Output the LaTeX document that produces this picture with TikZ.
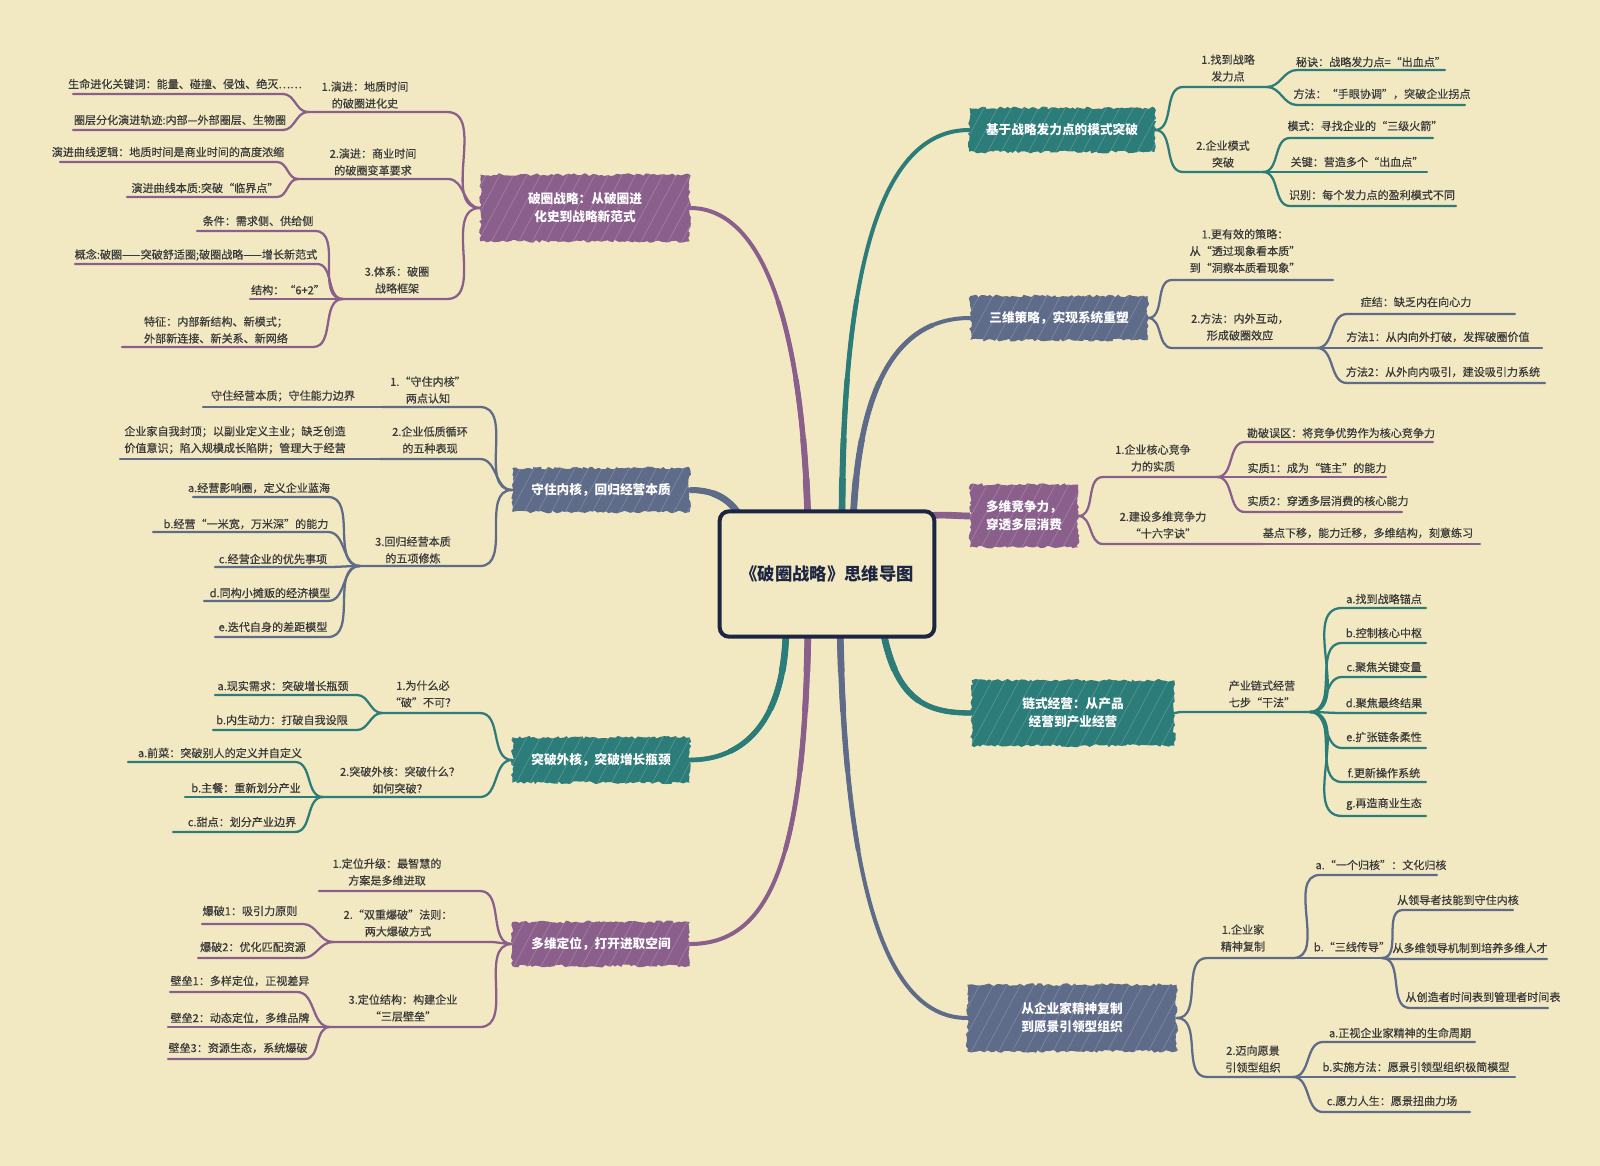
\documentclass[tikz,border=0pt]{standalone}
\usepackage{fontspec}
\setmainfont{Noto Sans CJK SC}
\newfontfamily\leaffont{Noto Sans CJK SC}[FakeBold=0.5]
\usetikzlibrary{decorations.pathmorphing,patterns.meta}
\definecolor{bgc}{HTML}{F2E9C2}
\definecolor{pur}{HTML}{8A5F8C}
\definecolor{tea}{HTML}{2C7C79}
\definecolor{sla}{HTML}{5E6B89}
\definecolor{txtc}{HTML}{3A3A3A}
\definecolor{navy}{HTML}{1C2541}
\pgfdeclarelayer{back}
\pgfdeclarelayer{lines}
\pgfsetlayers{back,lines,main}
\tikzset{
  lt/.style={font=\leaffont\fontsize{8.3}{12.6}\selectfont, text=txtc, inner sep=0pt, align=center},
  ul/.style={line width=1.7pt, line cap=round, draw=#1},
  br/.style={line width=3pt, line cap=round, draw=#1,
    preaction={draw=#1, line width=3.5pt, dash pattern=on 170pt off 3000pt},
    preaction={draw=#1, line width=4pt, dash pattern=on 110pt off 3000pt},
    preaction={draw=#1, line width=4.5pt, dash pattern=on 65pt off 3000pt},
    preaction={draw=#1, line width=5pt, dash pattern=on 35pt off 3000pt}},
  mnode/.style={fill=#1, text=white, font=\fontsize{9.5}{13.5}\selectfont\bfseries, align=center, inner sep=0pt,
    decorate, decoration={random steps,segment length=2.2pt,amplitude=1.1pt},
    postaction={pattern={Lines[angle=62,distance=9pt,line width=0.5pt]}, pattern color=white, opacity=0.2}},
}
\newcommand\leafL[6]{\coordinate (#1l) at (#3,#5);\coordinate (#1r) at (#4,#5);
  \draw[ul=#2] (#1l) -- (#1r) to[out=0,in=180] (#6);}
\newcommand\leafR[6]{\coordinate (#1l) at (#3,#5);\coordinate (#1r) at (#4,#5);
  \draw[ul=#2] (#6) to[out=0,in=180] (#1l) -- (#1r);}
\begin{document}
\begin{tikzpicture}[x=0.75pt,y=-0.75pt]
\begin{pgfonlayer}{back}
\fill[bgc] (0,0) rectangle (1600,1166);
\end{pgfonlayer}

% center
\node[draw=navy, line width=3pt, rounded corners=7pt, fill=bgc, minimum width=161pt, minimum height=94pt,
  font=\fontsize{13}{15}\selectfont\bfseries, text=navy] (C) at (827,574) {《破圈战略》思维导图};

% main nodes
\node[mnode=pur, minimum width=157pt, minimum height=50pt] (N1) at (585,208) {破圈战略：从破圈进\\化史到战略新范式};
\node[mnode=sla, minimum width=133pt, minimum height=33pt] (N2) at (601,490) {守住内核，回归经营本质};
\node[mnode=tea, minimum width=133pt, minimum height=34pt] (N3) at (601,760) {突破外核，突破增长瓶颈};
\node[mnode=pur, minimum width=133pt, minimum height=33pt] (N4) at (601,944) {多维定位，打开进取空间};
\node[mnode=tea, minimum width=139pt, minimum height=33pt] (N5) at (1062,130) {基于战略发力点的模式突破};
\node[mnode=sla, minimum width=133pt, minimum height=33pt] (N6) at (1059,318) {三维策略，实现系统重塑};
\node[mnode=pur, minimum width=81pt, minimum height=47pt] (N7) at (1024,516) {多维竞争力，\\穿透多层消费};
\node[mnode=tea, minimum width=152pt, minimum height=49pt] (N8) at (1073,713) {链式经营：从产品\\经营到产业经营};
\node[mnode=sla, minimum width=157pt, minimum height=50pt] (N9) at (1072,1018) {从企业家精神复制\\到愿景引领型组织};

% group 1 texts
\node[lt] (t1s1) at (365,95) {1.演进：地质时间\\的破圈进化史};
\node[lt] (t1a) at (185,84) {生命进化关键词：能量、碰撞、侵蚀、绝灭……};
\node[lt] (t1b) at (180,120) {圈层分化演进轨迹:内部—外部圈层、生物圈};
\node[lt] (t1s2) at (373,162) {2.演进：商业时间\\的破圈变革要求};
\node[lt] (t1c) at (168,152) {演进曲线逻辑：地质时间是商业时间的高度浓缩};
\node[lt] (t1d) at (205,188) {演进曲线本质:突破“临界点”};
\node[lt] (t1s3) at (397,280) {3.体系：破圈\\战略框架};
\node[lt] (t1e) at (258,221) {条件：需求侧、供给侧};
\node[lt] (t1f) at (196,255) {概念:破圈——突破舒适圈;破圈战略——增长新范式};
\node[lt] (t1g) at (288,290) {结构：“6+2”};
\node[lt] (t1h) at (216,330) {特征：内部新结构、新模式；\\外部新连接、新关系、新网络};

% group 2 texts
\node[lt] (t2s1) at (428,390) {1.“守住内核”\\两点认知};
\node[lt] (t2a) at (283,396) {守住经营本质；守住能力边界};
\node[lt] (t2s2) at (430,440) {2.企业低质循环\\的五种表现};
\node[lt] (t2b) at (235,440) {企业家自我封顶；以副业定义主业；缺乏创造\\价值意识；陷入规模成长陷阱；管理大于经营};
\node[lt] (t2s3) at (413,550) {3.回归经营本质\\的五项修炼};
\node[lt] (t2c) at (259,488) {a.经营影响圈，定义企业蓝海};
\node[lt] (t2d) at (246,524) {b.经营“一米宽，万米深”的能力};
\node[lt] (t2e) at (273,559) {c.经营企业的优先事项};
\node[lt] (t2f) at (270,593) {d.同构小摊贩的经济模型};
\node[lt] (t2g) at (273,627) {e.迭代自身的差距模型};

% group 3 texts
\node[lt] (t3s1) at (423,694) {1.为什么必\\“破”不可？};
\node[lt] (t3a) at (283,686) {a.现实需求：突破增长瓶颈};
\node[lt] (t3b) at (282,720) {b.内生动力：打破自我设限};
\node[lt] (t3s2) at (400,780) {2.突破外核：突破什么？\\如何突破？};
\node[lt] (t3c) at (220,753) {a.前菜：突破别人的定义并自定义};
\node[lt] (t3d) at (246,788) {b.主餐：重新划分产业};
\node[lt] (t3e) at (242,822) {c.甜点：划分产业边界};

% group 4 texts
\node[lt] (t4s1) at (387,872) {1.定位升级：最智慧的\\方案是多维进取};
\node[lt] (t4s2) at (398,923) {2.“双重爆破”法则：\\两大爆破方式};
\node[lt] (t4a) at (250,911) {爆破1：吸引力原则};
\node[lt] (t4b) at (253,947) {爆破2：优化匹配资源};
\node[lt] (t4s3) at (403,1008) {3.定位结构：构建企业\\“三层壁垒”};
\node[lt] (t4c) at (240,981) {壁垒1：多样定位，正视差异};
\node[lt] (t4d) at (240,1018) {壁垒2：动态定位，多维品牌};
\node[lt] (t4e) at (238,1048) {壁垒3：资源生态，系统爆破};

% group 5 texts
\node[lt] (t5s1) at (1228,68) {1.找到战略\\发力点};
\node[lt] (t5a) at (1371,62) {秘诀：战略发力点=“出血点”};
\node[lt] (t5b) at (1382,94) {方法：“手眼协调”，突破企业拐点};
\node[lt] (t5s2) at (1223,154) {2.企业模式\\突破};
\node[lt] (t5c) at (1365,126) {模式：寻找企业的“三级火箭”};
\node[lt] (t5d) at (1357,162) {关键：营造多个“出血点”};
\node[lt] (t5e) at (1372,195) {识别：每个发力点的盈利模式不同};

% group 6 texts
\node[lt] (t6s1) at (1245,251) {1.更有效的策略：\\从“透过现象看本质”\\到“洞察本质看现象”};
\node[lt] (t6s2) at (1240,327) {2.方法：内外互动，\\形成破圈效应};
\node[lt] (t6a) at (1416,302) {症结：缺乏内在向心力};
\node[lt] (t6b) at (1438,337) {方法1：从内向外打破，发挥破圈价值};
\node[lt] (t6c) at (1443,372) {方法2：从外向内吸引，建设吸引力系统};

% group 7 texts
\node[lt] (t7s1) at (1153,458) {1.企业核心竞争\\力的实质};
\node[lt] (t7a) at (1341,433) {勘破误区：将竞争优势作为核心竞争力};
\node[lt] (t7b) at (1317,468) {实质1：成为“链主”的能力};
\node[lt] (t7c) at (1328,501) {实质2：穿透多层消费的核心能力};
\node[lt] (t7s2) at (1163,525) {2.建设多维竞争力\\“十六字诀”};
\node[lt] (t7d) at (1368,533) {基点下移，能力迁移，多维结构，刻意练习};

% group 8 texts
\node[lt] (t8s) at (1262,694) {产业链式经营\\七步“干法”};
\node[lt] (t8a) at (1384,599) {a.找到战略锚点};
\node[lt] (t8b) at (1384,633) {b.控制核心中枢};
\node[lt] (t8c) at (1384,667) {c.聚焦关键变量};
\node[lt] (t8d) at (1384,703) {d.聚焦最终结果};
\node[lt] (t8e) at (1384,737) {e.扩张链条柔性};
\node[lt] (t8f) at (1384,773) {f.更新操作系统};
\node[lt] (t8g) at (1384,804) {g.再造商业生态};

% group 9 texts
\node[lt] (t9s1) at (1243,938) {1.企业家\\精神复制};
\node[lt] (t9a) at (1381,865) {a.“一个归核”：文化归核};
\node[lt] (t9b) at (1352,947) {b.“三线传导”};
\node[lt] (t9c) at (1458,900) {从领导者技能到守住内核};
\node[lt] (t9d) at (1470,948) {从多维领导机制到培养多维人才};
\node[lt] (t9e) at (1483,997) {从创造者时间表到管理者时间表};
\node[lt] (t9s2) at (1253,1059) {2.迈向愿景\\引领型组织};
\node[lt] (t9f) at (1400,1033) {a.正视企业家精神的生命周期};
\node[lt] (t9g) at (1416,1067) {b.实施方法：愿景引领型组织极简模型};
\node[lt] (t9h) at (1392,1101) {c.愿力人生：愿景扭曲力场};

\begin{pgfonlayer}{lines}
% main branches
\coordinate (c1) at (808,525);
\coordinate (c2) at (745,525);
\coordinate (c3) at (786,625);
\coordinate (c4) at (808,625);
\coordinate (c5) at (842,525);
\coordinate (c6) at (853,525);
\coordinate (c7) at (925,516);
\coordinate (c8) at (882,625);
\coordinate (c9) at (840,625);
\draw[br=pur] (c1) .. controls (803,330) and (765,208) .. (N1.east);
\draw[br=sla] (c2) .. controls (732,497) and (712,490) .. (N2.east);
\draw[br=tea] (c3) .. controls (786,720) and (745,760) .. (N3.east);
\draw[br=pur] (c4) .. controls (805,860) and (770,944) .. (N4.east);
\draw[br=tea] (c5) .. controls (842,270) and (880,130) .. (N5.west);
\draw[br=sla] (c6) .. controls (858,380) and (900,318) .. (N6.west);
\draw[br=pur] (c7) .. controls (945,514) and (955,516) .. (N7.west);
\draw[br=tea] (c8) .. controls (895,700) and (925,713) .. (N8.west);
\draw[br=sla] (c9) .. controls (845,900) and (890,1018) .. (N9.west);

% group 1
\leafL{l1s1}{pur}{308}{447}{112}{N1.west}
\leafL{l1a}{pur}{73}{283}{94}{l1s1l}
\leafL{l1b}{pur}{73}{283}{130}{l1s1l}
\leafL{l1s2}{pur}{298}{448}{179}{N1.west}
\leafL{l1c}{pur}{60}{277}{162}{l1s2l}
\leafL{l1d}{pur}{127}{277}{197}{l1s2l}
\leafL{l1s3}{pur}{343}{447}{299}{N1.west}
\leafL{l1e}{pur}{197}{315}{231}{l1s3l}
\leafL{l1f}{pur}{75}{317}{264}{l1s3l}
\leafL{l1g}{pur}{250}{330}{299}{l1s3l}
\leafL{l1h}{pur}{122}{313}{347}{l1s3l}
% group 2
\leafL{l2s1}{sla}{382}{480}{407}{N2.west}
\leafL{l2a}{sla}{203}{370}{407}{l2s1l}
\leafL{l2s2}{sla}{380}{480}{459}{N2.west}
\leafL{l2b}{sla}{120}{370}{459}{l2s2l}
\leafL{l2s3}{sla}{360}{480}{566}{N2.west}
\leafL{l2c}{sla}{193}{328}{497}{l2s3l}
\leafL{l2d}{sla}{153}{328}{532}{l2s3l}
\leafL{l2e}{sla}{215}{328}{567}{l2s3l}
\leafL{l2f}{sla}{204}{328}{601}{l2s3l}
\leafL{l2g}{sla}{215}{328}{637}{l2s3l}
% group 3
\leafL{l3s1}{tea}{382}{480}{713}{N3.west}
\leafL{l3a}{tea}{215}{357}{695}{l3s1l}
\leafL{l3b}{tea}{213}{357}{730}{l3s1l}
\leafL{l3s2}{tea}{323}{480}{797}{N3.west}
\leafL{l3c}{tea}{128}{295}{762}{l3s2l}
\leafL{l3d}{tea}{185}{312}{797}{l3s2l}
\leafL{l3e}{tea}{173}{295}{832}{l3s2l}
% group 4
\leafL{l4s1}{pur}{319}{480}{891}{N4.west}
\leafL{l4s2}{pur}{333}{490}{942}{N4.west}
\leafL{l4a}{pur}{202}{303}{924}{l4s2l}
\leafL{l4b}{pur}{198}{303}{958}{l4s2l}
\leafL{l4s3}{pur}{330}{480}{1027}{N4.west}
\leafL{l4c}{pur}{170}{297}{992}{l4s3l}
\leafL{l4d}{pur}{168}{318}{1027}{l4s3l}
\leafL{l4e}{pur}{168}{305}{1059}{l4s3l}
% group 5
\leafR{l5s1}{tea}{1183}{1267}{87}{N5.east}
\leafR{l5a}{tea}{1297}{1445}{70}{l5s1r}
\leafR{l5b}{tea}{1297}{1465}{105}{l5s1r}
\leafR{l5s2}{tea}{1183}{1263}{172}{N5.east}
\leafR{l5c}{tea}{1290}{1433}{138}{l5s2r}
\leafR{l5d}{tea}{1275}{1427}{172}{l5s2r}
\leafR{l5e}{tea}{1290}{1456}{206}{l5s2r}
% group 6
\leafR{l6s1}{sla}{1172}{1333}{280}{N6.east}
\leafR{l6s2}{sla}{1172}{1317}{348}{N6.east}
\leafR{l6a}{sla}{1347}{1515}{314}{l6s2r}
\leafR{l6b}{sla}{1330}{1542}{348}{l6s2r}
\leafR{l6c}{sla}{1347}{1545}{383}{l6s2r}
% group 7
\leafR{l7s1}{pur}{1103}{1217}{477}{N7.east}
\leafR{l7a}{pur}{1245}{1433}{442}{l7s1r}
\leafR{l7b}{pur}{1230}{1386}{477}{l7s1r}
\leafR{l7c}{pur}{1245}{1402}{512}{l7s1r}
\leafR{l7s2}{pur}{1103}{1263}{544}{N7.east}
\leafR{l7d}{pur}{1275}{1480}{544}{l7s2r}
% group 8
\leafR{l8s}{tea}{1180}{1310}{712}{N8.east}
\leafR{l8a}{tea}{1342}{1426}{608}{l8sr}
\leafR{l8b}{tea}{1342}{1426}{643}{l8sr}
\leafR{l8c}{tea}{1342}{1426}{677}{l8sr}
\leafR{l8d}{tea}{1342}{1426}{713}{l8sr}
\leafR{l8e}{tea}{1342}{1426}{748}{l8sr}
\leafR{l8f}{tea}{1342}{1426}{782}{l8sr}
\leafR{l8g}{tea}{1342}{1426}{816}{l8sr}
% group 9
\leafR{l9s1}{sla}{1207}{1293}{958}{N9.east}
\leafR{l9a}{sla}{1320}{1437}{875}{l9s1r}
\leafR{l9b}{sla}{1300}{1382}{958}{l9s1r}
\leafR{l9c}{sla}{1403}{1513}{910}{l9br}
\leafR{l9d}{sla}{1392}{1547}{959}{l9br}
\leafR{l9e}{sla}{1410}{1548}{1008}{l9br}
\leafR{l9s2}{sla}{1207}{1293}{1077}{N9.east}
\leafR{l9f}{sla}{1323}{1475}{1042}{l9s2r}
\leafR{l9g}{sla}{1300}{1515}{1077}{l9s2r}
\leafR{l9h}{sla}{1323}{1470}{1112}{l9s2r}
\end{pgfonlayer}
\end{tikzpicture}
\end{document}
